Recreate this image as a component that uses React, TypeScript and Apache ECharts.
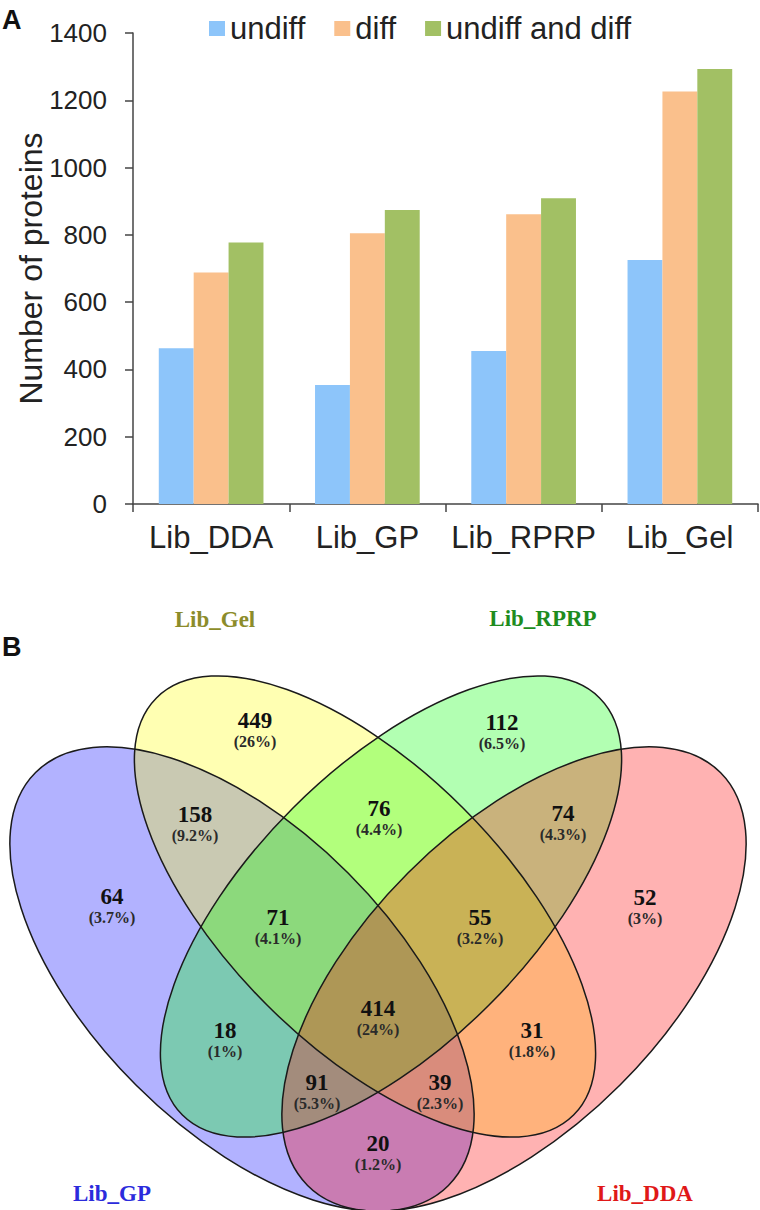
import React, { useEffect, useRef } from 'react';
import * as echarts from 'echarts';

const categories = ['Lib_DDA', 'Lib_GP', 'Lib_RPRP', 'Lib_Gel'];
const undiff = [463, 354, 455, 725];
const diff = [688, 805, 861, 1226];
const undiffAndDiff = [777, 874, 909, 1293];
const seriesNames = ['undiff', 'diff', 'undiff and diff'];
const yMin = 0;
const yMax = 1400;
const yInterval = 200;

const vennSetNames = ['Lib_GP', 'Lib_Gel', 'Lib_RPRP', 'Lib_DDA'];
const vennRegionCounts = [64, 449, 112, 52, 158, 76, 74, 18, 31, 20, 71, 55, 91, 39, 414];
const vennRegionPercents = ['3.7%', '26%', '6.5%', '3%', '9.2%', '4.4%', '4.3%', '1%', '1.8%', '1.2%', '4.1%', '3.2%', '5.3%', '2.3%', '24%'];

// layout (positions / shapes only)
const regionPos = [[112, 896], [255, 720], [502, 722], [645, 897], [195, 814], [379, 808], [563, 813], [225, 1030], [532, 1030], [378, 1143], [278, 917], [480, 917], [317, 1082], [440, 1082], [378, 1008]];
const setLabelPos = [[112, 1193], [215, 619], [543, 618], [645, 1193]];
const setLabelColor = ['#2b2bdc', '#8c8c2a', '#1e8c1e', '#e01818'];
const setFill = ['rgba(0,0,255,0.3)', 'rgba(255,255,0,0.3)', 'rgba(0,255,0,0.3)', 'rgba(255,0,0,0.3)'];
const axisX = 378;
const outerEllipse = { cx: 242, cy: 979, a: 292, b: 150, deg: 45 };
const innerEllipse = { cx: 365, cy: 906.5, a: 295, b: 139, deg: 45 };

export default function App() {
  const ref = useRef<HTMLDivElement>(null);
  useEffect(() => {
    if (!ref.current) return;
    const chart = echarts.init(ref.current, undefined, { renderer: 'svg' });
    const toE = (e: any, mirror: boolean) => ({
      cx: mirror ? 2 * axisX - e.cx : e.cx,
      cy: e.cy, a: e.a, b: e.b,
      phi: ((mirror ? 180 - e.deg : e.deg) * Math.PI) / 180,
    });
    const ells = [toE(outerEllipse, false), toE(innerEllipse, false), toE(innerEllipse, true), toE(outerEllipse, true)];
    const graphics: any[] = [];
    ells.forEach((e, i) => graphics.push({
      type: 'ellipse', x: e.cx, y: e.cy, rotation: -e.phi, silent: true,
      shape: { cx: 0, cy: 0, rx: e.a, ry: e.b }, style: { fill: setFill[i], stroke: 'none' }, z: 10,
    }));
    ells.forEach((e) => graphics.push({
      type: 'ellipse', x: e.cx, y: e.cy, rotation: -e.phi, silent: true,
      shape: { cx: 0, cy: 0, rx: e.a, ry: e.b }, style: { fill: 'none', stroke: '#1a1a1a', lineWidth: 1.5 }, z: 11,
    }));
    vennRegionCounts.forEach((c, i) => {
      const [x, y] = regionPos[i];
      graphics.push({ type: 'text', x, y, z: 15, silent: true, style: { text: String(c), fontSize: 23, fontWeight: 'bold', fontFamily: 'Liberation Serif', fill: '#111', align: 'center', verticalAlign: 'middle', textAlign: 'center', textVerticalAlign: 'middle' } });
      graphics.push({ type: 'text', x, y: y + 21, z: 15, silent: true, style: { text: '(' + vennRegionPercents[i] + ')', fontSize: 16, fontWeight: 'bold', fontFamily: 'Liberation Serif', fill: '#2a2a2a', align: 'center', verticalAlign: 'middle', textAlign: 'center', textVerticalAlign: 'middle' } });
    });
    vennSetNames.forEach((n, i) => {
      const [x, y] = setLabelPos[i];
      graphics.push({ type: 'text', x, y, z: 15, silent: true, style: { text: n, fontSize: 23, fontWeight: 'bold', fontFamily: 'Liberation Serif', fill: setLabelColor[i], align: 'center', verticalAlign: 'middle', textAlign: 'center', textVerticalAlign: 'middle' } });
    });
    graphics.push({ type: 'text', x: 2, y: 6, silent: true, style: { text: 'A', fontSize: 27, fontWeight: 'bold', fontFamily: 'Liberation Sans', fill: '#111' } });
    graphics.push({ type: 'text', x: 2, y: 633, silent: true, style: { text: 'B', fontSize: 27, fontWeight: 'bold', fontFamily: 'Liberation Sans', fill: '#111' } });

    const axisColor = '#444';
    chart.setOption({
      animation: false,
      legend: {
        left: 204, top: 8, itemWidth: 16, itemHeight: 15, itemGap: 29, itemTextGap: 7, icon: 'rect',
        textStyle: { fontSize: 31, fontFamily: 'Liberation Sans', color: '#222' },
        data: seriesNames,
      },
      grid: { left: 133, top: 33, width: 625, height: 471, outerBoundsMode: 'none' },
      xAxis: {
        type: 'category', data: categories,
        axisLine: { lineStyle: { color: axisColor, width: 1.5 } },
        axisTick: { show: true, length: 8, lineStyle: { color: axisColor, width: 1.5 } },
        axisLabel: { interval: 0, fontSize: 31, fontFamily: 'Liberation Sans', color: '#222', margin: 18 },
      },
      yAxis: {
        type: 'value', min: yMin, max: yMax, interval: yInterval,
        name: 'Number of proteins', nameLocation: 'middle', nameGap: 86, nameMoveOverlap: false,
        nameTextStyle: { fontSize: 32, fontFamily: 'Liberation Sans', color: '#222' },
        axisLine: { show: true, lineStyle: { color: axisColor, width: 1.5 } },
        axisTick: { show: true, length: 8, lineStyle: { color: axisColor, width: 1.5 } },
        splitLine: { show: false },
        axisLabel: { fontSize: 26, fontFamily: 'Liberation Sans', color: '#222', margin: 26, formatter: (v: number) => String(v) },
      },
      series: [
        { name: seriesNames[0], type: 'bar', data: undiff, barGap: '0%', barCategoryGap: '33%', itemStyle: { color: '#8DC5FA' } },
        { name: seriesNames[1], type: 'bar', data: diff, itemStyle: { color: '#FAC08C' } },
        { name: seriesNames[2], type: 'bar', data: undiffAndDiff, itemStyle: { color: '#A2C064' } },
      ],
      graphic: { elements: graphics },
    });
    return () => chart.dispose();
  }, []);
  return <div ref={ref} style={{ position: 'absolute', left: 0, top: 0, width: 760, height: 1210 }} />;
}
